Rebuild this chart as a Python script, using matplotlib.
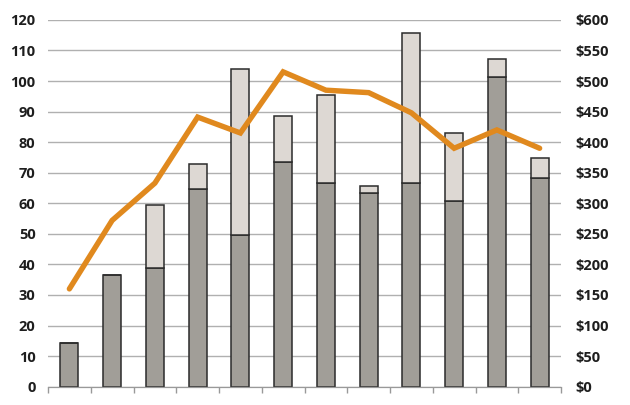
import numpy as np
import matplotlib.pyplot as plt

# values
base_units = [14.4, 36.4, 38.7, 64.6, 49.6, 73.5, 66.6, 63.5, 66.6, 60.6, 101.4, 68.4]
total_units = [14.4, 36.4, 59.4, 72.8, 104.0, 88.6, 95.5, 65.6, 115.6, 83.1, 107.1, 74.7]
price = [160, 272, 333, 441, 415, 515, 485, 481, 448, 390, 420, 390]

extra_units = [t - b for t, b in zip(total_units, base_units)]
x = np.arange(len(base_units))

fig = plt.figure(figsize=(6.3, 4.05), dpi=100)
ax = fig.add_axes([0.0762, 0.0452, 0.8143, 0.9057])
ax2 = ax.twinx()

font = dict(family='Open Sans', weight='bold', size=10.5, color='#1e1e1e')

ax.set_axisbelow(True)
ax.yaxis.grid(True, color='#b0b0b0', linewidth=1.0)
ax.bar(x, base_units, width=0.42, color='#a19e98', edgecolor='#2b2b2b', linewidth=1.1, zorder=2)
ax.bar(x, extra_units, width=0.42, bottom=base_units, color='#ddd8d3',
       edgecolor='#2b2b2b', linewidth=1.1, zorder=2)

ax2.plot(x, price, color='#e0891e', linewidth=3.9, solid_joinstyle='miter',
         solid_capstyle='round', zorder=3)

ax.set_xlim(-0.5, len(x) - 0.5)
ax.set_ylim(0, 120)
ax.set_yticks(range(0, 121, 10))
ax2.set_ylim(0, 600)
ax2.set_yticks(range(0, 601, 50))
ax2.set_yticklabels(['$' + str(v) for v in range(0, 601, 50)])

ax.set_xticks(np.arange(-0.5, len(x), 1.0))
ax.set_xticklabels([])
ax.tick_params(axis='x', length=4, color='#999999', width=1)
ax.tick_params(axis='y', length=0, pad=9)
ax2.tick_params(axis='y', length=0, pad=10)
for lab in ax.get_yticklabels() + ax2.get_yticklabels():
    lab.set_fontfamily(font['family'])
    lab.set_fontweight(font['weight'])
    lab.set_fontsize(font['size'])
    lab.set_color(font['color'])

for a in (ax, ax2):
    for s in ('top', 'left', 'right'):
        a.spines[s].set_visible(False)
    a.spines['bottom'].set_color('#999999')

fig.savefig('out.png', dpi=100)
